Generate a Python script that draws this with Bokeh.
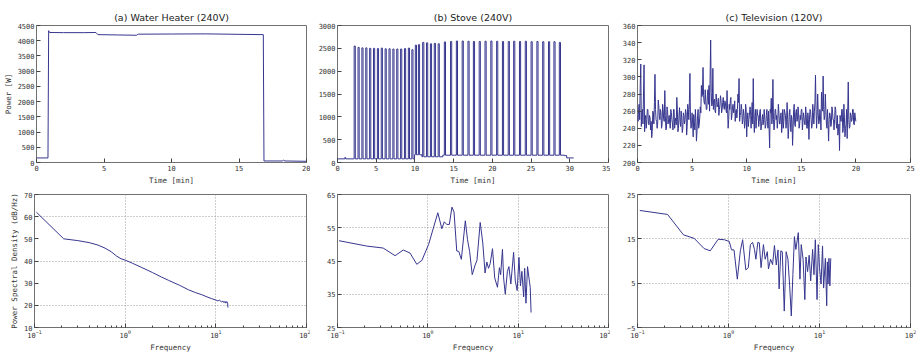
import numpy as np
from bokeh.plotting import figure
from bokeh.layouts import column, row
from bokeh.models import Range1d, SingleIntervalTicker, FixedTicker, LogTicker
from bokeh.embed import file_html
from bokeh.resources import INLINE

# ---------------- data ----------------
titles = ["(a) Water Heater (240V)", "(b) Stove (240V)", "(c) Television (120V)"]

# (a) water heater power [W] vs time [min]
heater_t = [0.0, 0.85, 0.9, 0.97, 2.0, 3.5, 4.4, 4.55, 6.0, 7.4, 7.55, 10.0, 12.5, 15.0, 16.8, 16.85, 18.2, 18.3, 18.4, 20.0]
heater_w = [150, 150, 4330, 4270, 4265, 4265, 4270, 4200, 4190, 4180, 4215, 4220, 4225, 4210, 4200, 50, 50, 75, 50, 40]

# (b) stove: pulse start times [min], pulse peaks [W], baseline steps
stove_on = [2.15, 2.65, 3.15, 3.65, 4.15, 4.65, 5.15, 5.65, 6.15, 6.65, 7.15, 7.65, 8.15, 8.65, 9.15, 9.6,
            10.05, 10.45, 11.0, 11.5, 12.0, 12.5, 13.0, 13.8,
            14.6, 15.35, 16.1, 16.85, 17.55, 18.3, 19.05, 19.8, 20.55, 21.3, 22.05, 22.75, 23.5,
            24.25, 25.0, 25.75, 26.5, 27.25, 27.95, 28.65]
stove_peak = [2550, 2520, 2510, 2510, 2500, 2500, 2495, 2505, 2490, 2490, 2485, 2485, 2485, 2495, 2505, 2470,
              2570, 2580, 2630, 2620, 2600, 2610, 2600, 2640,
              2650, 2660, 2660, 2655, 2650, 2650, 2655, 2660, 2655, 2650, 2650, 2655, 2650,
              2655, 2645, 2650, 2645, 2645, 2645, 2630]
stove_pulse_len = 0.15
stove_base_t = [0.0, 0.95, 1.05, 9.95, 10.9, 13.6, 29.3, 29.6]
stove_base_w = [80, 110, 80, 170, 125, 160, 150, 100]
stove_end = 30.5

# (c) television power [W]: readings at 0.0, 0.1, ... 20.0 min
tv_w = [255,
        262, 250, 315, 258, 245, 314, 250, 240, 262, 245,
        255, 238, 229, 260, 245, 303, 250, 240, 273, 255,
        262, 240, 268, 250, 284, 238, 265, 245, 255, 240,
        258, 245, 262, 240, 252, 276, 236, 255, 248, 260,
        235, 258, 245, 262, 232, 268, 250, 304, 240, 258,
        230, 248, 262, 225, 255, 240, 252, 258, 277, 311,
        270, 285, 262, 278, 268, 260, 343, 266, 310, 272,
        260, 280, 265, 275, 262, 278, 258, 270, 265, 272,
        262, 284, 240, 268, 272, 250, 265, 258, 272, 260,
        252, 280, 298, 255, 268, 245, 262, 240, 268, 230,
        258, 250, 265, 240, 270, 298, 235, 262, 248, 255,
        242, 260, 238, 250, 244, 262, 240, 255, 248, 260,
        217, 258, 245, 297, 238, 262, 250, 240, 268, 245,
        255, 235, 262, 248, 258, 240, 270, 228, 258, 245,
        255, 220, 262, 245, 258, 248, 265, 240, 255, 262,
        238, 258, 245, 265, 240, 258, 227, 262, 250, 245,
        258, 260, 302, 240, 280, 245, 262, 238, 265, 301,
        250, 280, 245, 262, 225, 258, 242, 265, 250, 238,
        265, 245, 255, 238, 214, 250, 262, 235, 268, 230,
        245, 228, 294, 240, 258, 248, 262, 245, 258, 248]
# readings at 0.05, 0.15, ... 19.95 min
tv_mid = [248, 268, 290, 242, 262, 280, 236, 255, 250, 262,
          244, 252, 248, 236, 258, 270, 262, 248, 246, 266,
          250, 258, 244, 262, 248, 255, 240, 262, 250, 246,
          262, 250, 238, 262, 248, 244, 262, 240, 264, 242,
          252, 240, 255, 250, 258, 242, 262, 270, 252, 244,
          246, 256, 238, 248, 236, 262, 244, 265, 290, 280,
          278, 268, 272, 262, 285, 290, 300, 282, 268, 262,
          274, 258, 270, 268, 255, 268, 272, 262, 276, 262,
          270, 258, 262, 250, 262, 276, 255, 268, 262, 248,
          262, 262, 270, 248, 258, 262, 250, 255, 245, 262,
          250, 242, 255, 262, 255, 245, 250, 255, 240, 262,
          255, 248, 262, 242, 256, 250, 252, 243, 262, 240,
          240, 262, 275, 252, 250, 244, 262, 255, 250, 258,
          245, 258, 244, 240, 262, 255, 248, 250, 240, 262,
          236, 250, 240, 268, 242, 262, 250, 258, 245, 250,
          262, 248, 252, 244, 256, 240, 250, 252, 260, 240,
          268, 245, 270, 262, 255, 258, 248, 255, 282, 260,
          262, 255, 262, 240, 245, 250, 255, 244, 262, 250,
          250, 262, 240, 232, 245, 255, 248, 262, 240, 252,
          240, 262, 260, 250, 242, 255, 250, 262, 244, 252]
tv_step_min = 0.1

# PSD curves: frequency, dB/Hz
psd_a_f = [0.105, 0.21, 0.3, 0.4, 0.5, 0.6, 0.7, 0.8, 0.9, 1.0, 1.2, 1.5, 2.0, 2.5, 3.0, 4.0, 5.0, 6.0,
           7.0, 8.0, 9.0, 10.0, 10.5, 11.0, 11.5, 12.0, 12.3, 12.6, 12.9, 13.2, 13.5, 13.6]
psd_a_v = [62.0, 50.0, 49.2, 48.3, 47.2, 45.8, 44.2, 42.3, 41.0, 40.4, 39.0, 37.2, 34.8, 32.8, 31.3, 29.0,
           27.0, 25.7, 24.8, 23.8, 23.0, 22.4, 22.0, 22.3, 21.6, 21.9, 21.2, 21.8, 21.0, 21.7, 21.0, 19.0]

psd_b_f = [0.104, 0.21, 0.32, 0.434, 0.535, 0.635, 0.755, 0.86, 1.02, 1.29, 1.43, 1.52, 1.62, 1.73, 1.85,
           1.95, 2.09, 2.2, 2.35, 2.6, 2.75, 2.9, 3.1, 3.34, 3.5, 3.8, 4.06, 4.3, 4.5, 4.7, 4.9, 5.2, 5.5,
           5.9, 6.2, 6.4, 6.7, 6.9, 7.2, 7.6, 7.9, 8.3, 8.9, 9.3, 9.75, 10.2, 10.6, 11.0, 11.5, 11.8, 12.2,
           12.7, 13.3, 13.6, 13.9]
psd_b_v = [51.1, 49.5, 48.9, 46.6, 48.3, 47.4, 44.0, 45.2, 50.0, 59.5, 54.7, 56.8, 56.0, 56.0, 61.2,
           59.7, 48.0, 47.9, 45.5, 57.1, 51.4, 47.9, 40.9, 43.8, 45.2, 56.6, 50.4, 41.4, 44.7, 42.8, 44.2,
           48.7, 39.9, 37.1, 43.0, 40.9, 48.5, 39.9, 35.0, 41.9, 43.3, 38.1, 47.6, 39.0, 36.1, 46.1, 37.5,
           41.9, 34.2, 42.8, 32.3, 43.3, 39.0, 37.1, 29.5]

psd_c_f = [0.106, 0.214, 0.32, 0.42, 0.54, 0.63, 0.77, 0.9, 1.02, 1.08, 1.15, 1.25, 1.35, 1.43, 1.55, 1.65,
           1.74, 1.84, 1.93, 2.0, 2.1, 2.18, 2.28, 2.42, 2.53, 2.67, 2.75, 2.9, 3.05, 3.2, 3.35, 3.5, 3.6,
           3.76, 3.9, 4.1, 4.3, 4.5, 4.7, 4.9, 5.1, 5.3, 5.5, 5.85, 6.1, 6.3, 6.6, 6.9, 7.1, 7.4, 7.7, 8.0,
           8.4, 8.7, 9.0, 9.4, 9.7, 10.0, 10.4, 10.8, 11.1, 11.6, 12.0, 12.2, 12.4, 12.7, 13.0, 13.3]
psd_c_v = [21.4, 20.5, 15.9, 15.1, 12.8, 12.3, 14.9, 14.8, 14.4, 12.5, 12.5, 5.9, 12.3, 14.8, 8.0, 8.5,
           13.7, 14.2, 12.6, 10.4, 14.2, 14.1, 8.5, 13.7, 10.4, 12.1, 8.2, 10.4, 9.2, 13.5, 9.1, 12.5, 3.7,
           12.3, 12.1, -1.3, 12.1, 10.4, 4.4, -2.4, 6.9, 15.5, 12.6, 16.4, 5.9, 13.7, 10.4, 1.3, 10.9, 7.6,
           11.3, 5.5, 12.6, 6.9, 14.8, 1.3, 13.7, 8.5, 4.8, 13.4, 3.9, 10.6, -0.1, 9.8, 4.8, 10.6, 4.4, 10.6]

# axis limits, tick positions and grid positions
top_x = [(0, 20, 5), (0, 35, 5), (0, 25, 5)]
top_y = [(0, 4500, 500), (0, 3000, 500), (200, 360, 20)]
bot_y = [(10, 70), (25, 65), (-5, 25)]
bot_yticks = [[10, 20, 30, 40, 50, 60, 70], [25, 35, 45, 55, 65], [-5, 5, 15, 25]]
bot_ygrid = [[20, 40, 60], [35, 55], [5, 15]]
freq_range = (0.1, 100)
freq_grid = [1, 10]

# ---------------- build stove step series ----------------
def stove_base(t):
    v = stove_base_w[0]
    for bt, bw in zip(stove_base_t, stove_base_w):
        if t >= bt:
            v = bw
    return v

def stove_value(t):
    for on, pk in zip(stove_on, stove_peak):
        if on <= t < on + stove_pulse_len:
            return pk
    return stove_base(t)

events = sorted(set(stove_base_t + stove_on + [o + stove_pulse_len for o in stove_on] + [stove_end]))
stove_t, stove_w = [], []
for e in events:
    if stove_t:
        stove_t.append(e); stove_w.append(stove_value(e - 1e-9))
    if e < stove_end:
        stove_t.append(e); stove_w.append(stove_value(e))

# interleave the television readings in time order
tv_t, tv_all = [], []
for k, w in enumerate(tv_w):
    tv_t.append(k * tv_step_min); tv_all.append(w)
    if k < len(tv_mid):
        tv_t.append(k * tv_step_min + tv_step_min / 2); tv_all.append(tv_mid[k])

# ---------------- styling ----------------
LINE = "#36368f"
MONO = "DejaVu Sans Mono"
TXT = "#333333"
FRAME = "#707070"

def style_axis(ax):
    ax.major_tick_in = 4
    ax.major_tick_out = 0
    ax.minor_tick_in = 2
    ax.minor_tick_out = 0
    ax.axis_line_color = None
    ax.major_tick_line_color = "#444444"
    ax.minor_tick_line_color = "#444444"
    ax.major_label_text_font = MONO
    ax.major_label_text_font_size = "7px"
    ax.major_label_text_color = TXT
    ax.major_label_standoff = 2
    ax.axis_label_text_font = MONO
    ax.axis_label_text_font_size = "7.5px"
    ax.axis_label_text_font_style = "normal"
    ax.axis_label_text_color = TXT
    ax.axis_label_standoff = 2

widths = [310, 300, 306]
lefts = [34, 27, 27]
rights = [4, 2, 6]

top_series = [(heater_t, heater_w), (stove_t, stove_w), (tv_t, tv_all)]
bot_series = [(psd_a_f, psd_a_v), (psd_b_f, psd_b_v), (psd_c_f, psd_c_v)]

top_figs, bot_figs = [], []
for i in range(3):
    x0, x1, xs = top_x[i]
    y0, y1, ys = top_y[i]
    p = figure(width=widths[i], height=187, x_range=Range1d(x0, x1), y_range=Range1d(y0, y1),
               output_backend="svg", toolbar_location=None, title=titles[i],
               min_border_left=lefts[i], min_border_right=rights[i], min_border_top=25, min_border_bottom=22)
    p.title.align = "center"
    p.title.text_font = "DejaVu Sans"
    p.title.text_font_size = "9.5px"
    p.title.text_font_style = "normal"
    p.title.text_color = "#222222"
    p.title.standoff = 5
    p.xaxis.ticker = SingleIntervalTicker(interval=xs, num_minor_ticks=0)
    p.yaxis.ticker = SingleIntervalTicker(interval=ys, num_minor_ticks=0)
    style_axis(p.xaxis[0]); style_axis(p.yaxis[0])
    p.xaxis.axis_label = "Time [min]"
    if i == 0:
        p.yaxis.axis_label = "Power [W]"
    p.xgrid.visible = False
    p.ygrid.visible = False
    p.outline_line_color = FRAME
    p.outline_line_width = 1
    p.line(top_series[i][0], top_series[i][1], line_color=LINE, line_width=1)
    top_figs.append(p)

    b0, b1 = bot_y[i]
    q = figure(width=widths[i], height=167, x_axis_type="log",
               x_range=Range1d(*freq_range), y_range=Range1d(b0, b1),
               output_backend="svg", toolbar_location=None,
               min_border_left=lefts[i], min_border_right=rights[i], min_border_top=7, min_border_bottom=21)
    q.xaxis.ticker = LogTicker(num_minor_ticks=10)
    q.yaxis.ticker = FixedTicker(ticks=bot_yticks[i], minor_ticks=[])
    style_axis(q.xaxis[0]); style_axis(q.yaxis[0])
    q.xaxis.axis_label = "Frequency"
    if i == 0:
        q.yaxis.axis_label = "Power Spectral Density (dB/Hz)"
    q.xgrid[0].ticker = FixedTicker(ticks=freq_grid, minor_ticks=[])
    q.ygrid[0].ticker = FixedTicker(ticks=bot_ygrid[i], minor_ticks=[])
    for g in (q.xgrid[0], q.ygrid[0]):
        g.grid_line_color = "#9a9a9a"
        g.grid_line_dash = "1 2"
        g.grid_line_width = 1
    q.outline_line_color = FRAME
    q.outline_line_width = 1
    q.line(bot_series[i][0], bot_series[i][1], line_color=LINE, line_width=1)
    bot_figs.append(q)

layout = column(row(*top_figs), row(*bot_figs))
open("out.html", "w").write(file_html(layout, INLINE))
